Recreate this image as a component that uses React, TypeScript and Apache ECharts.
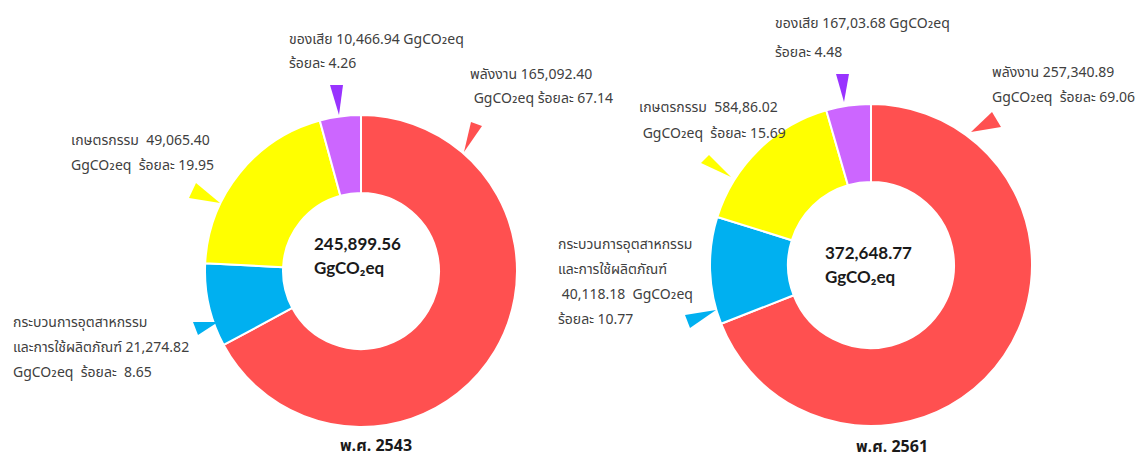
import React, { useEffect, useRef } from "react";
import * as echarts from "echarts";

const categories = ["พลังงาน", "กระบวนการอุตสาหกรรมและการใช้ผลิตภัณฑ์", "เกษตรกรรม", "ของเสีย"];
const values2543 = [165092.4, 21274.82, 49065.4, 10466.94];
const values2561 = [257340.89, 40118.18, 58486.02, 16703.68];
const valueText2543 = ["165,092.40", "21,274.82", "49,065.40", "10,466.94"];
const valueText2561 = ["257,340.89", "40,118.18", "584,86.02", "167,03.68"];
const percent2543 = ["67.14", "8.65", "19.95", "4.26"];
const percent2561 = ["69.06", "10.77", "15.69", "4.48"];
const years = ["พ.ศ. 2543", "พ.ศ. 2561"];
const colors = ["#FF5050", "#00B0F0", "#FFFF00", "#CC66FF"];
const pointerColors = ["#FF5050", "#00B0F0", "#FFFF00", "#9933FF"];

const UNIT = "GgCO₂eq";
const THAI_FONT = '"Noto Sans Thai", "Noto Sans Thai UI", Loma, Garuda, "Tlwg Typo", "DejaVu Sans", sans-serif';
const BOLD_FONT = 'Lato, "Noto Sans Thai", "Noto Sans", sans-serif';

function fmt(v: number) {
  return v.toLocaleString("en-US", { minimumFractionDigits: 2, maximumFractionDigits: 2 });
}

export default function App() {
  const ref = useRef<HTMLDivElement>(null);
  useEffect(() => {
    document.body.style.margin = "0";
    if (!ref.current) return;
    const chart = echarts.init(ref.current, null, { renderer: "svg" });

    const labels2543: string[][] = [
      [`${categories[0]} ${valueText2543[0]}`, ` ${UNIT} ร้อยละ ${percent2543[0]}`],
      ["กระบวนการอุตสาหกรรม", `และการใช้ผลิตภัณฑ์ ${valueText2543[1]}`, `${UNIT}  ร้อยละ  ${percent2543[1]}`],
      [`${categories[2]}  ${valueText2543[2]}`, `${UNIT}  ร้อยละ ${percent2543[2]}`],
      [`${categories[3]} ${valueText2543[3]} ${UNIT}`, `ร้อยละ ${percent2543[3]}`],
    ];
    const labels2561: string[][] = [
      [`${categories[0]} ${valueText2561[0]}`, `${UNIT}  ร้อยละ ${percent2561[0]}`],
      ["กระบวนการอุตสาหกรรม", "และการใช้ผลิตภัณฑ์", ` ${valueText2561[1]}  ${UNIT}`, `ร้อยละ ${percent2561[1]}`],
      [`${categories[2]}  ${valueText2561[2]}`, ` ${UNIT}  ร้อยละ ${percent2561[2]}`],
      [`${categories[3]} ${valueText2561[3]} ${UNIT}`, `ร้อยละ ${percent2561[3]}`],
    ];
    const anchors2543 = [
      [470, 74, 24],
      [13, 322, 25],
      [71, 140, 25],
      [289, 39, 24],
    ];
    const anchors2561 = [
      [992, 72, 25],
      [558, 244, 25],
      [639, 107, 26],
      [775, 23, 29],
    ];
    const pointers2543 = [
      [[471, 122], [482, 126], [464, 152]],
      [[193, 322], [198, 335], [218, 322]],
      [[189, 198], [196, 183], [220, 203]],
      [[330, 85], [343, 85], [339, 115]],
    ];
    const pointers2561 = [
      [[992, 112], [1001, 127], [971, 132]],
      [[685, 315], [690, 328], [716, 310]],
      [[701, 163], [709, 155], [731, 177]],
      [[836, 74], [849, 74], [844, 102]],
    ];

    const graphics: any[] = [];
    const addLabels = (labels: string[][], anchors: number[][]) => {
      labels.forEach((lines, i) => {
        const [x, y, dy] = anchors[i];
        lines.forEach((t, j) => {
          graphics.push({
            type: "text",
            x,
            y: y + j * dy,
            z: 100,
            silent: true,
            style: {
              text: t,
              fill: "#404040",
              font: `14px ${THAI_FONT}`,
              verticalAlign: "middle",
              align: "left",
            },
          });
        });
      });
    };
    addLabels(labels2543, anchors2543);
    addLabels(labels2561, anchors2561);
    const addPointers = (pts: number[][][]) => {
      pts.forEach((p, i) => {
        graphics.push({
          type: "polygon",
          silent: true,
          z: 100,
          shape: { points: p },
          style: { fill: pointerColors[i] },
        });
      });
    };
    addPointers(pointers2543);
    addPointers(pointers2561);

    const totals = [values2543, values2561].map((arr) => arr.reduce((a, b) => a + b, 0));
    const centerText = [
      [314, 243],
      [825, 252],
    ];
    totals.forEach((t, i) => {
      graphics.push({
        type: "text",
        x: centerText[i][0],
        y: centerText[i][1],
        z: 100,
        silent: true,
        style: { text: fmt(t), fill: "#1a1a1a", font: `bold 17px ${BOLD_FONT}`, verticalAlign: "middle" },
      });
      graphics.push({
        type: "text",
        x: centerText[i][0],
        y: centerText[i][1] + 24,
        z: 100,
        silent: true,
        style: { text: UNIT, fill: "#1a1a1a", font: `bold 17px ${BOLD_FONT}`, verticalAlign: "middle" },
      });
    });
    const yearPos = [
      [376, 446],
      [892, 447],
    ];
    years.forEach((y, i) => {
      graphics.push({
        type: "text",
        x: yearPos[i][0],
        y: yearPos[i][1],
        z: 100,
        silent: true,
        style: { text: y, fill: "#1a1a1a", font: `bold 16px ${THAI_FONT}`, verticalAlign: "middle", align: "center" },
      });
    });

    const makeSeries = (vals: number[], center: number[], radius: number[]) => ({
      type: "pie",
      z: 1,
      center,
      radius,
      startAngle: 90,
      clockwise: true,
      label: { show: false },
      labelLine: { show: false },
      emphasis: { disabled: true },
      silent: true,
      itemStyle: { borderColor: "#ffffff", borderWidth: 2 },
      data: vals.map((v, i) => ({ name: categories[i], value: v, itemStyle: { color: colors[i] } })),
    });

    chart.setOption({
      animation: false,
      backgroundColor: "#ffffff",
      series: [
        makeSeries(values2543, [361, 271], [78, 156]),
        makeSeries(values2561, [871, 265], [83, 161]),
      ],
      graphic: { elements: graphics },
    });
    return () => chart.dispose();
  }, []);
  return <div ref={ref} style={{ width: 1144, height: 460 }} />;
}
